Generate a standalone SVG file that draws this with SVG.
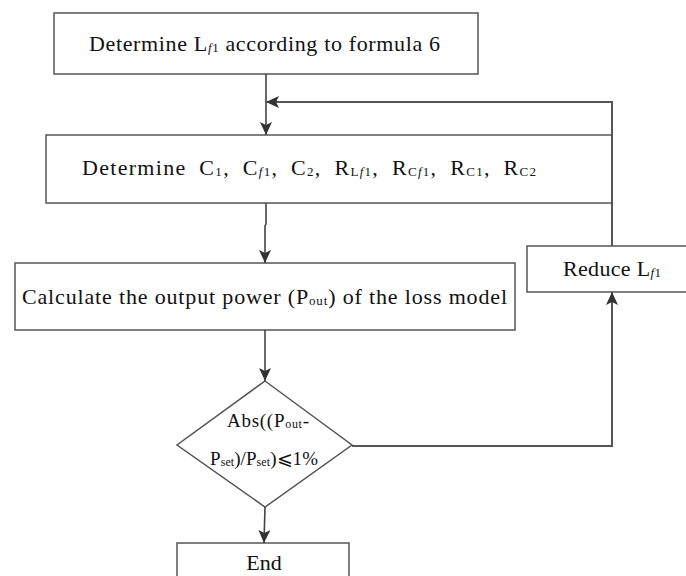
<svg xmlns="http://www.w3.org/2000/svg" width="686" height="576" viewBox="0 0 686 576">
<style>
.box{fill:#fff;stroke:#555;stroke-width:1.5}
.t{font-family:"Liberation Serif","Times New Roman",serif;font-size:22px;fill:#111}
.s{font-size:13px}
.i{font-style:italic}
.c{fill:none;stroke:#444;stroke-width:1.6}
.c2{fill:none;stroke:#555;stroke-width:2}
</style>
<defs>
<marker id="ah" markerUnits="userSpaceOnUse" markerWidth="14" markerHeight="12" refX="13" refY="6" orient="auto">
<path d="M0,0 L13,6 L0,12 L3,6 Z" fill="#333"/>
</marker>
</defs>
<g id="n1">
<rect class="box" x="54" y="13" width="424" height="61"/>
<text class="t" x="89" y="51" textLength="351" lengthAdjust="spacing">Determine L<tspan class="s i" dy="1">f</tspan><tspan class="s">1</tspan><tspan dy="-1"> according to formula 6</tspan></text>
</g>
<g id="n2">
<rect class="box" x="46" y="135" width="566" height="68"/>
<text class="t" x="82" y="175" textLength="454" lengthAdjust="spacing" style="word-spacing:6px">Determine C<tspan class="s" dy="1">1</tspan><tspan dy="-1">, C</tspan><tspan class="s i" dy="1">f</tspan><tspan class="s">1</tspan><tspan dy="-1">, C</tspan><tspan class="s" dy="1">2</tspan><tspan dy="-1">, R</tspan><tspan class="s" dy="1">L</tspan><tspan class="s i">f</tspan><tspan class="s">1</tspan><tspan dy="-1">, R</tspan><tspan class="s" dy="1">C</tspan><tspan class="s i">f</tspan><tspan class="s">1</tspan><tspan dy="-1">, R</tspan><tspan class="s" dy="1">C1</tspan><tspan dy="-1">, R</tspan><tspan class="s" dy="1">C2</tspan></text>
</g>
<g id="n3">
<rect class="box" x="15" y="263" width="500" height="67"/>
<text class="t" x="22" y="304" textLength="485" lengthAdjust="spacing">Calculate the output power (P<tspan class="s" dy="1">out</tspan><tspan dy="-1">) of the loss model</tspan></text>
</g>
<g id="n4">
<polygon class="box" points="265,381 352,445 265,507 177,445"/>
<text class="t" x="227" y="427" textLength="82" lengthAdjust="spacing" style="font-size:19px">Abs((P<tspan class="s" style="font-size:12px" dy="1">out</tspan><tspan dy="-1">-</tspan></text>
<text class="t" x="210" y="465" textLength="108" lengthAdjust="spacing" style="font-size:19px">P<tspan class="s" style="font-size:12px" dy="1">set</tspan><tspan dy="-1">)/P</tspan><tspan class="s" style="font-size:12px" dy="1">set</tspan><tspan dy="-1">)⩽1%</tspan></text>
</g>
<g id="n5">
<rect class="box" x="527" y="246" width="160" height="46"/>
<text class="t" x="563" y="276" textLength="98" lengthAdjust="spacing">Reduce L<tspan class="s i" dy="1">f</tspan><tspan class="s">1</tspan></text>
</g>
<g id="n6">
<rect class="box" x="177" y="543" width="172" height="50"/>
<text class="t" x="264" y="570" text-anchor="middle">End</text>
</g>
<g id="connectors">
<path class="c" d="M266,74 L266,135" marker-end="url(#ah)"/>
<path class="c2" d="M612,246 L612,102 L266,102" marker-end="url(#ah)"/>
<path class="c" d="M266,203 L266,224 L265,226 L265,263" marker-end="url(#ah)"/>
<path class="c" d="M265,330 L265,381" marker-end="url(#ah)"/>
<path class="c" d="M265,507 L264,543" marker-end="url(#ah)"/>
<path class="c2" d="M352,446 L612,446 L612,292" marker-end="url(#ah)"/>
</g>
</svg>
